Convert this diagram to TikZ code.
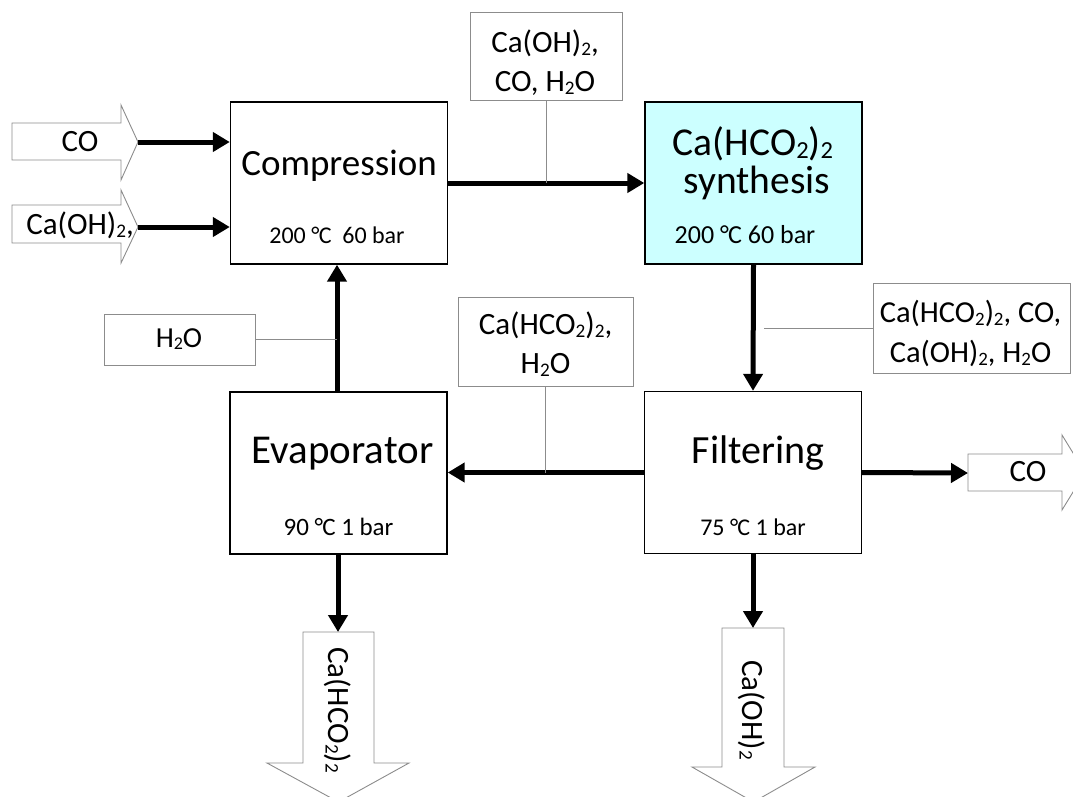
\documentclass[tikz,border=0pt]{standalone}
\usepackage{fontspec}
\setmainfont{Carlito}
\usepackage{graphicx}
\usetikzlibrary{arrows.meta}
\newcommand\chsub[1]{\raisebox{-0.1em}{\scalebox{0.62}{#1}}}
\newcommand\degC{°\kern-0.03em C}
\definecolor{synthfill}{RGB}{204,255,255}
\definecolor{lblgray}{RGB}{140,140,140}
\begin{document}
\begin{tikzpicture}[x=1pt,y=-1pt,
  unitbox/.style={draw=black, line width=1.4pt, minimum width=217pt, minimum height=162pt, inner sep=0pt},
  lblbox/.style={draw=lblgray, line width=0.9pt, inner sep=0pt},
  lbltxt/.style={inner sep=0pt, align=center, font=\fontsize{31}{39}\selectfont},
  title/.style={anchor=base, inner sep=0pt, font=\fontsize{37}{44}\selectfont},
  cond/.style={anchor=base, inner sep=0pt, font=\fontsize{24}{28}\selectfont},
  flow/.style={line width=5pt, -{Triangle[length=17pt,width=19pt]}},
  tie/.style={draw=lblgray, line width=0.9pt},
  hollow/.style={draw=lblgray, line width=0.9pt, fill=white},
  harrowtxt/.style={inner sep=0pt, font=\fontsize{31}{36}\selectfont}
]
\useasboundingbox (0,0) rectangle (1073,796);
\clip (0,0) rectangle (1073,796);

% unit boxes
\node[unitbox] (comp) at (339,183) {};
\node[unitbox, fill=synthfill] (synth) at (753.5,183) {};
\node[unitbox] (evap) at (338.5,473) {};
\node[unitbox] (filt) at (753,472.5) {};

\node[title] (compT) at (339,175) {Compression};
\node[cond] (compC) at (337,243) {200 \degC\ \ 60 bar};
\node[title, font=\fontsize{39.5}{44}\selectfont] (synthT1) at (753,155) {Ca(HCO\chsub{2})\chsub{2}};
\node[title, font=\fontsize{39.5}{44}\selectfont] (synthT2) at (757,193) {synthesis};
\node[cond, font=\fontsize{26}{30}\selectfont] (synthC) at (745,243) {200 \degC\ 60 bar};
\node[title, font=\fontsize{41}{46}\selectfont] (evapT) at (342.5,463) {Evaporator};
\node[cond, font=\fontsize{25}{30}\selectfont] (evapC) at (338.5,535) {90 \degC\ 1 bar};
\node[title, font=\fontsize{40}{46}\selectfont] (filtT) at (758,463) {Filtering};
\node[cond] (filtC) at (753,535) {75 \degC\ 1 bar};

% label boxes
\node[lblbox, minimum width=152pt, minimum height=88pt] (lblTop) at (546,56) {};
\node[lbltxt] (lblTopT) at (545,63) {Ca(OH)\chsub{2},\\CO, H\chsub{2}O};
\node[lblbox, minimum width=151pt, minimum height=51pt] (lblH2O) at (179.5,339.5) {};
\node[lbltxt, font=\fontsize{29}{36}\selectfont, anchor=base] (lblH2OT) at (179,347) {H\chsub{2}O};
\node[lblbox, minimum width=175pt, minimum height=89pt] (lblMid) at (545.5,341.5) {};
\node[lbltxt] (lblMidT) at (545.5,344) {Ca(HCO\chsub{2})\chsub{2},\\H\chsub{2}O};
\node[lblbox, minimum width=197pt, minimum height=90pt] (lblRight) at (971.5,328) {};
\node[lbltxt, font=\fontsize{30.5}{40}\selectfont] (lblRightT) at (970.5,333) {Ca(HCO\chsub{2})\chsub{2}, CO,\\Ca(OH)\chsub{2}, H\chsub{2}O};

% hollow feed arrows (left)
\draw[hollow] (12,123) -- (121,123) -- (121,105) -- (138,142) -- (121,180) -- (121,160) -- (12,160) -- cycle;
\coordinate (coTip) at (138,142);
\node[harrowtxt] (coIn) at (80,142) {CO};
\draw[hollow] (12,205) -- (121,205) -- (121,190) -- (138,227) -- (121,263) -- (121,243) -- (12,243) -- cycle;
\coordinate (caTip) at (138,227);
\node[harrowtxt, font=\fontsize{31}{36}\selectfont] (caIn) at (80,225) {Ca(OH)\chsub{2},};

% hollow CO out arrow
\draw[hollow] (968,454) -- (1062,454) -- (1062,435) -- (1085,472.5) -- (1062,510) -- (1062,491) -- (968,491) -- cycle;
\coordinate (coOutTail) at (968,473);
\node[harrowtxt] (coOut) at (1028,472) {CO};

% hollow down arrows
\draw[hollow] (303,632) -- (374,632) -- (374,763) -- (409,763) -- (338.5,802) -- (267,763) -- (303,763) -- cycle;
\coordinate (formTop) at (338,632);
\node[harrowtxt, rotate=-90] (formOut) at (338,710) {Ca(HCO\chsub{2})\chsub{2}};
\draw[hollow] (722,628) -- (784,628) -- (784,767) -- (815,767) -- (753.5,802) -- (692,767) -- (722,767) -- cycle;
\coordinate (hydTop) at (753,628);
\node[harrowtxt, rotate=-90] (hydOut) at (752,710) {Ca(OH)\chsub{2}};

% flows
\draw[flow] (coTip) -- (coTip -| comp.west);
\draw[flow] (caTip) -- (caTip -| comp.west);
\draw[flow] (comp.east) -- (synth.west);
\draw[flow] (evap.north -| 337,0) -- (comp.south -| 337,0);
\draw[flow] (synth.south) -- (filt.north);
\draw[flow] (filt.west) -- (evap.east |- filt.west);
\draw[flow] (filt.east) -- (coOutTail);
\draw[flow] (evap.south -| formTop) -- (formTop);
\draw[flow] (filt.south -| hydTop) -- (hydTop);

% ties
\draw[tie] (lblTop.south) -- (lblTop.south |- comp.east);
\draw[tie] (lblH2O.east) -- (lblH2O.east -| 337,0);
\coordinate (rightTie) at (764,328);
\draw[tie] (lblRight.west) -- (rightTie);
\draw[tie] (lblMid.south) -- (lblMid.south |- filt.west);
\end{tikzpicture}
\end{document}
